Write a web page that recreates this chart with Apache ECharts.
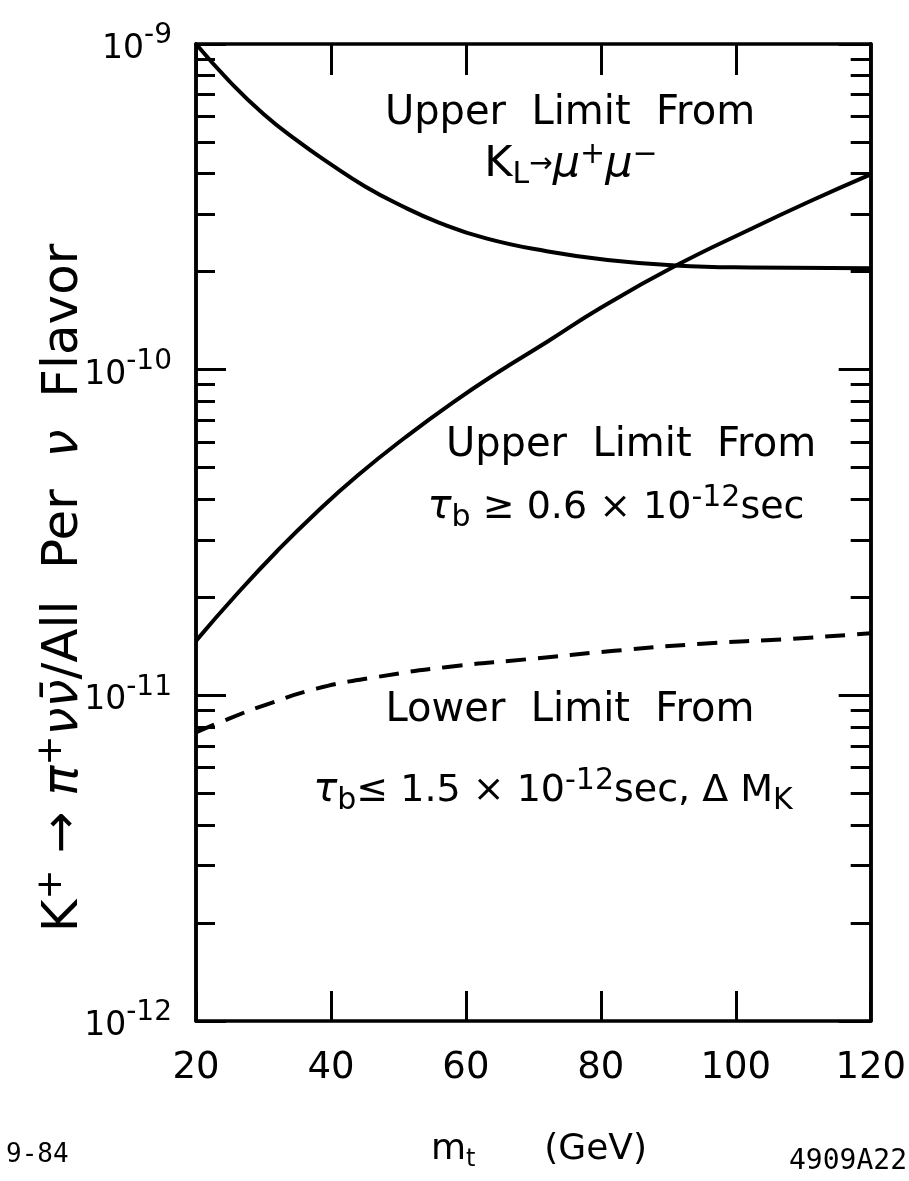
<!DOCTYPE html>
<html>
<head>
<meta charset="utf-8">
<title>K+ → π+ νν̄ branching ratio vs top mass</title>
<script src="https://cdn.jsdelivr.net/npm/echarts@6/dist/echarts.min.js"></script>
<style>
  html, body { margin: 0; padding: 0; background: #fff; }
  #chart { width: 909px; height: 1181px; }
</style>
</head>
<body>
<div id="chart"></div>
<script>
// Top-quark mass (GeV) and K+ -> pi+ nu nubar branching ratio per neutrino flavour
// Upper limit from K_L -> mu+ mu-
const mtKL = [20, 25, 30, 35, 40, 45, 50, 56, 63, 72, 81, 91, 102, 120];
const brKL = [1.0e-9, 7.67e-10, 6.1e-10, 5.05e-10, 4.27e-10, 3.66e-10, 3.22e-10, 2.83e-10, 2.53e-10, 2.31e-10, 2.17e-10, 2.09e-10, 2.06e-10, 2.05e-10];

// Upper limit from tau_b >= 0.6e-12 s
const mtTau = [20, 26, 32, 38, 44, 51, 58, 65, 72, 80, 91, 102, 111, 120];
const brTau = [1.47e-11, 2.04e-11, 2.77e-11, 3.67e-11, 4.74e-11, 6.19e-11, 7.91e-11, 9.89e-11, 1.216e-10, 1.549e-10, 2.08e-10, 2.69e-10, 3.29e-10, 3.98e-10];

// Lower limit from tau_b <= 1.5e-12 s and Delta M_K
const mtLow = [20, 25, 30, 38, 47, 57, 69, 82, 95, 108, 120];
const brLow = [7.7e-12, 8.5e-12, 9.3e-12, 1.05e-11, 1.14e-11, 1.22e-11, 1.29e-11, 1.37e-11, 1.44e-11, 1.49e-11, 1.55e-11];

// Axis ranges and tick values
const xTickValues = [20, 40, 60, 80, 100, 120];
const yDecades = [1e-12, 1e-11, 1e-10, 1e-9];

const FONT = "'DejaVu Sans', sans-serif";
const MONO = "'DejaVu Sans Mono', monospace";
const INK = '#000';

const minorY = [];
for (let d = 0; d < yDecades.length - 1; d++) {
  for (let k = 2; k <= 9; k++) minorY.push(k * yDecades[d]);
}

const pairs = (xs, ys) => xs.map((x, i) => [x, ys[i]]);

const frameLine = { show: true, onZero: false, lineStyle: { color: INK, width: 3.5 } };

function logAxis(position, tickLen, customTicks, showLabels) {
  const ax = {
    type: 'log',
    logBase: 10,
    min: yDecades[0],
    max: yDecades[yDecades.length - 1],
    position: position,
    axisLine: frameLine,
    axisTick: { show: true, inside: true, length: tickLen, customValues: customTicks, lineStyle: { color: INK, width: 3 } },
    splitLine: { show: false },
    minorTick: { show: false },
    axisLabel: { show: false }
  };
  if (showLabels) {
    ax.axisLabel = {
      show: true,
      margin: 24,
      customValues: yDecades,
      formatter: function (v) {
        const e = Math.round(Math.log10(v));
        return '{b|10}{s|-' + (-e) + '}';
      },
      rich: {
        b: { fontFamily: FONT, fontSize: 33, lineHeight: 44, verticalAlign: 'bottom', color: INK },
        s: { fontFamily: FONT, fontSize: 28, lineHeight: 22, verticalAlign: 'top', color: INK }
      }
    };
  }
  return ax;
}

const annoRich = {
  n: { fontFamily: FONT, fontSize: 40, lineHeight: 50, verticalAlign: 'middle', color: INK },
  m: { fontFamily: FONT, fontSize: 38, lineHeight: 50, verticalAlign: 'middle', color: INK },
  i: { fontFamily: FONT, fontSize: 40, lineHeight: 50, verticalAlign: 'middle', fontStyle: 'italic', color: INK },
  big: { fontFamily: FONT, fontSize: 43, lineHeight: 50, verticalAlign: 'middle', color: INK },
  bigi: { fontFamily: FONT, fontSize: 43, lineHeight: 50, verticalAlign: 'middle', fontStyle: 'italic', color: INK },
  sup: { fontFamily: FONT, fontSize: 30, lineHeight: 24, verticalAlign: 'top', color: INK },
  sub: { fontFamily: FONT, fontSize: 30, lineHeight: 24, verticalAlign: 'bottom', color: INK },
  ar: { fontFamily: FONT, fontSize: 28, lineHeight: 50, verticalAlign: 'middle', color: INK }
};

function note(x, y, text) {
  return {
    type: 'text',
    x: x, y: y,
    silent: true,
    style: {
      text: text, rich: annoRich, align: 'center', verticalAlign: 'middle',
      fill: INK, font: '40px ' + FONT
    }
  };
}

const chart = echarts.init(document.getElementById('chart'), null, { renderer: 'canvas' });

chart.setOption({
  animation: false,
  backgroundColor: '#fff',
  grid: { left: 196, right: 37, top: 44, bottom: 160, containLabel: false },
  xAxis: [
    {
      type: 'value', min: xTickValues[0], max: xTickValues[xTickValues.length - 1], interval: 20,
      position: 'bottom',
      axisLine: frameLine,
      axisTick: { show: true, inside: true, length: 30, lineStyle: { color: INK, width: 3 } },
      axisLabel: { show: true, margin: 29, fontFamily: FONT, fontSize: 37, color: INK },
      splitLine: { show: false }
    },
    {
      type: 'value', min: xTickValues[0], max: xTickValues[xTickValues.length - 1], interval: 20,
      position: 'top',
      axisLine: frameLine,
      axisTick: { show: true, inside: true, length: 31, lineStyle: { color: INK, width: 3 } },
      axisLabel: { show: false },
      splitLine: { show: false }
    }
  ],
  yAxis: [
    logAxis('left', 30, yDecades, true),
    logAxis('left', 19, minorY, false),
    logAxis('right', 32, yDecades, false),
    logAxis('right', 20, minorY, false)
  ],
  series: [
    {
      name: 'K_L → μ+μ− upper limit', type: 'line', xAxisIndex: 0, yAxisIndex: 0,
      data: pairs(mtKL, brKL), smooth: 0.5, showSymbol: false, silent: true,
      lineStyle: { color: INK, width: 4 }
    },
    {
      name: 'τb upper limit', type: 'line', xAxisIndex: 0, yAxisIndex: 0,
      data: pairs(mtTau, brTau), smooth: 0.5, showSymbol: false, silent: true,
      lineStyle: { color: INK, width: 4 }
    },
    {
      name: 'τb, ΔMK lower limit', type: 'line', xAxisIndex: 0, yAxisIndex: 0,
      data: pairs(mtLow, brLow), smooth: 0.5, showSymbol: false, silent: true,
      lineStyle: { color: INK, width: 4, type: [20, 12] }
    }
  ],
  graphic: [
    note(570, 114, '{n|Upper  Limit  From}'),
    note(571, 165, '{big|K}{sub|L}{ar|→}{bigi|μ}{sup|+}{bigi|μ}{sup|−}'),
    note(631, 446, '{n|Upper  Limit  From}'),
    note(616, 508, '{i|τ}{sub|b}{m| ≥ 0.6 × 10}{sup|-12}{m|sec}'),
    note(570, 711, '{n|Lower  Limit  From}'),
    note(553, 791, '{i|τ}{sub|b}{m|≤ 1.5 × 10}{sup|-12}{m|sec, Δ M}{sub|K}'),
    {
      type: 'text', x: 64, y: 588, rotation: Math.PI / 2, silent: true,
      style: {
        text: '{t|K}{ts|+}{t| → }{ti|π}{ts|+}{ti|νν\u0304}{t|/All  Per  }{ti|ν}{t|  Flavor}',
        align: 'center', verticalAlign: 'middle', fill: INK,
        rich: {
          t: { fontFamily: FONT, fontSize: 50, lineHeight: 60, verticalAlign: 'middle', color: INK },
          ti: { fontFamily: FONT, fontSize: 50, lineHeight: 60, verticalAlign: 'middle', fontStyle: 'italic', color: INK },
          ts: { fontFamily: FONT, fontSize: 36, lineHeight: 30, verticalAlign: 'top', color: INK }
        }
      }
    },
    {
      type: 'text', x: 539, y: 1150, silent: true,
      style: {
        text: '{t|m}{s|t}{t|      (GeV)}',
        align: 'center', verticalAlign: 'middle', fill: INK,
        rich: {
          t: { fontFamily: FONT, fontSize: 36, lineHeight: 44, verticalAlign: 'middle', color: INK },
          s: { fontFamily: FONT, fontSize: 24, lineHeight: 20, verticalAlign: 'bottom', color: INK }
        }
      }
    },
    {
      type: 'text', x: 6, y: 1155, silent: true,
      style: { text: '9-84', align: 'left', verticalAlign: 'middle', fill: INK, font: '26px ' + MONO }
    },
    {
      type: 'text', x: 907, y: 1162, silent: true,
      style: { text: '4909A22', align: 'right', verticalAlign: 'middle', fill: INK, font: '28px ' + MONO }
    }
  ]
});
</script>
</body>
</html>
